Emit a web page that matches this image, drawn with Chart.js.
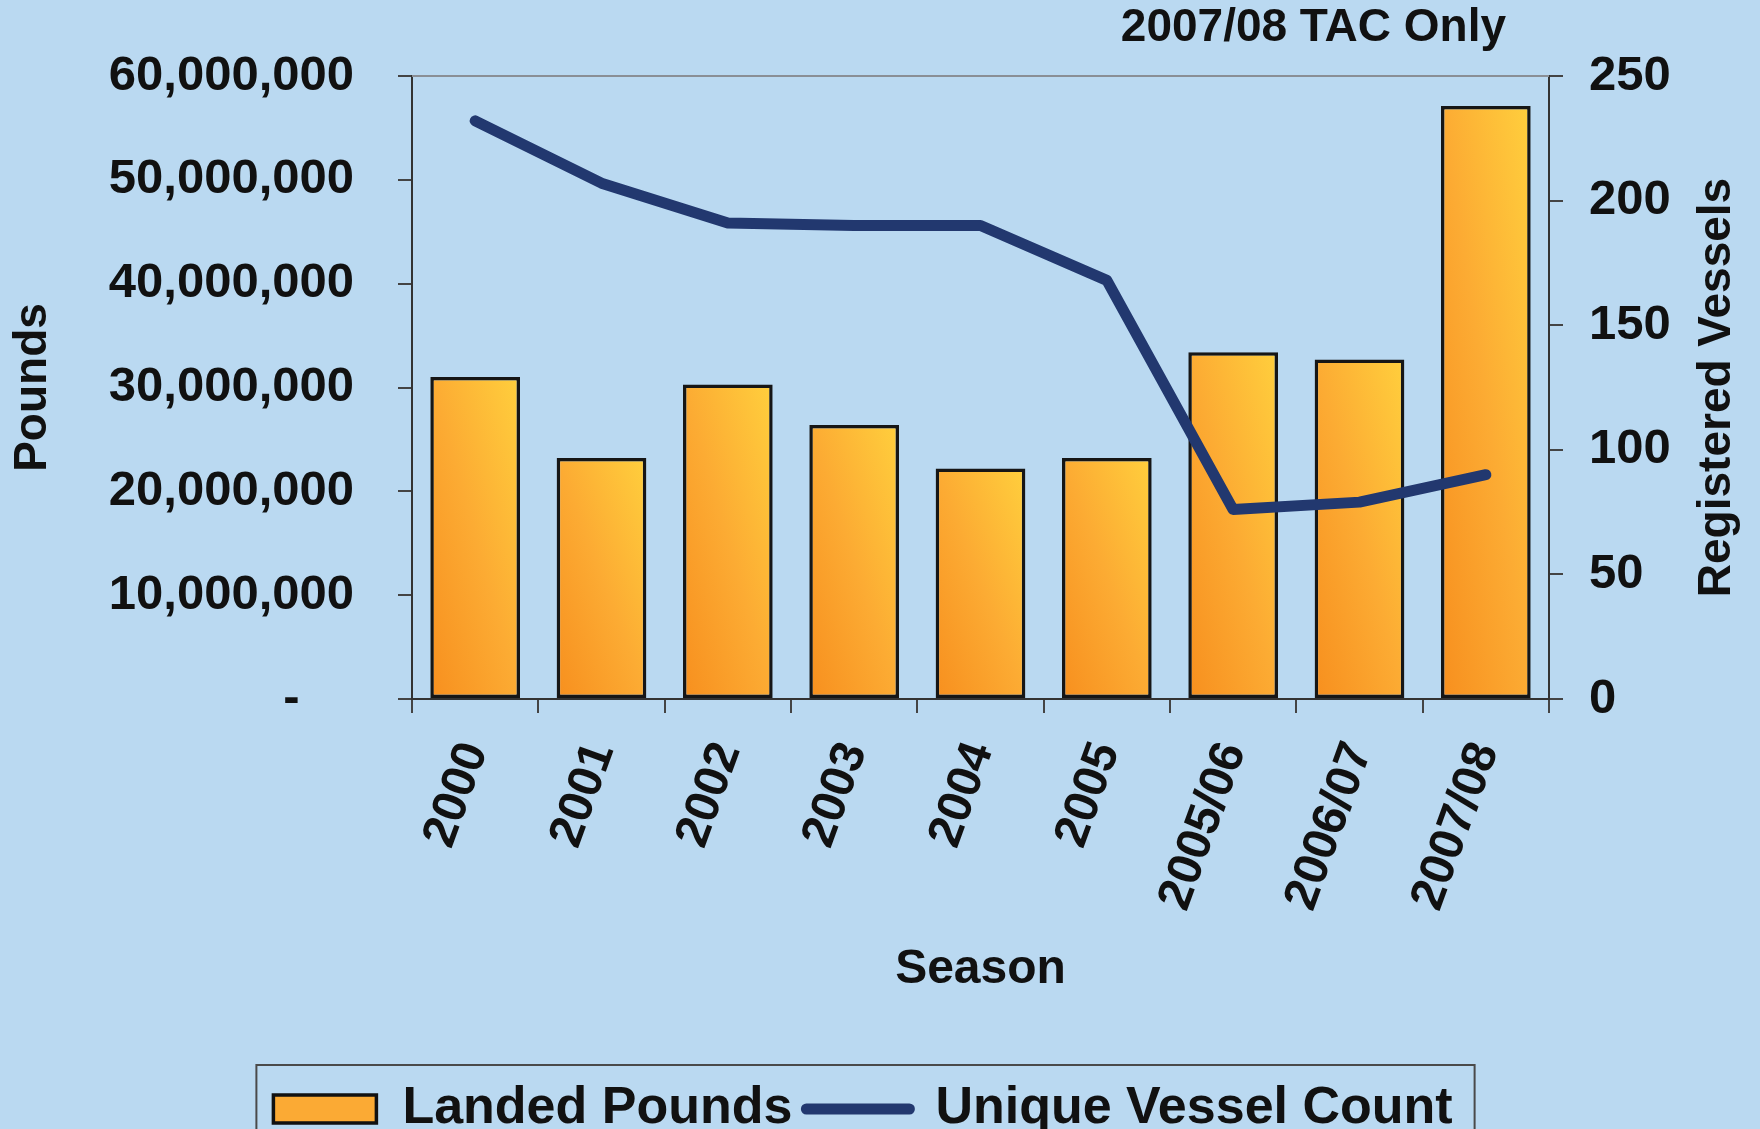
<!DOCTYPE html>
<html>
<head>
<meta charset="utf-8">
<script src="https://cdn.jsdelivr.net/npm/chart.js@4.4.0/dist/chart.umd.min.js"></script>
<style>
  html, body { margin: 0; padding: 0; background: #bad9f1; }
  #wrap { width: 1760px; height: 1129px; }
</style>
</head>
<body>
<div id="wrap"><canvas id="season-chart" width="1760" height="1129"></canvas></div>
<script>
let seasons = ["2000", "2001", "2002", "2003", "2004", "2005", "2005/06", "2006/07", "2007/08"];
let landedPounds = [31000000, 23200000, 30300000, 26400000, 22200000, 23200000, 33400000, 32700000, 57100000];
let vesselCount = [232, 207, 191, 190, 190, 168, 76, 79, 90];
let poundTicks = [0, 10000000, 20000000, 30000000, 40000000, 50000000, 60000000];
let vesselTicks = [0, 50, 100, 150, 200, 250];

let bg = "#bad9f1";
let ink = "#111111";
let navy = "#22386f";
let barWidthPct = 0.71;

Chart.defaults.font.family = '"Liberation Sans", Arial, sans-serif';
Chart.defaults.font.weight = "bold";
Chart.defaults.color = ink;

// orange (bottom left corner) -> yellow (top right corner) on each bar
function barFill(c) {
  let chart = c.chart;
  let area = chart.chartArea;
  if (!area || c.dataIndex === undefined) return "#fbaa34";
  let x = chart.scales.x.getPixelForValue(c.dataIndex);
  let w = chart.scales.x.width / seasons.length * barWidthPct;
  let top = chart.scales.y.getPixelForValue(landedPounds[c.dataIndex]);
  let h = area.bottom - top;
  let k = 2 * w * h / (w * w + h * h);
  let x0 = x - w / 2, y0 = area.bottom;
  let g = chart.ctx.createLinearGradient(x0, y0, x0 + k * h, y0 - k * w);
  g.addColorStop(0, "#f78f1e");
  g.addColorStop(0.5, "#fcab33");
  g.addColorStop(1, "#ffcf3d");
  return g;
}

let framePlugin = {
  id: "frame",
  beforeDraw(chart) {
    let ctx = chart.ctx;
    ctx.save();
    ctx.fillStyle = bg;
    ctx.fillRect(0, 0, chart.width, chart.height);
    ctx.restore();
  },
  beforeDatasetsDraw(chart) {
    let a = chart.chartArea;
    let ctx = chart.ctx;
    ctx.save();
    ctx.strokeStyle = "#8a8f96";
    ctx.lineWidth = 2;
    ctx.beginPath();
    ctx.moveTo(a.left, a.top);
    ctx.lineTo(a.right, a.top);
    ctx.stroke();
    ctx.restore();
  },
  afterDraw(chart) {
    let a = chart.chartArea;
    let ctx = chart.ctx;
    ctx.save();
    ctx.fillStyle = ink;
    ctx.font = 'bold 46px "Liberation Sans", Arial, sans-serif';
    // right axis title, reads bottom to top
    ctx.translate(chart.scales.y1.right - 9, (a.top + a.bottom) / 2);
    ctx.rotate(-Math.PI / 2);
    ctx.textAlign = "center";
    ctx.textBaseline = "middle";
    ctx.fillText("Registered Vessels", 0, 0);
    ctx.restore();

    ctx.save();
    ctx.fillStyle = ink;
    ctx.font = 'bold 46px "Liberation Sans", Arial, sans-serif';
    ctx.textAlign = "right";
    ctx.textBaseline = "middle";
    ctx.fillText("2007/08 TAC Only", a.right - 43, 28);
    ctx.restore();

    // frame round the legend
    let boxes = chart.legend.legendHitBoxes;
    if (boxes && boxes.length) {
      let first = boxes[0];
      let last = boxes[boxes.length - 1];
      let l = first.left - 17;
      let r = last.left + last.width + 22;
      let t = first.top - 18;
      ctx.save();
      ctx.strokeStyle = "#4a4a4a";
      ctx.lineWidth = 2;
      ctx.strokeRect(l, t, r - l, chart.height - t + 20);
      ctx.restore();
    }
  }
};

let ctx = document.getElementById("season-chart").getContext("2d");
let seasonChart = new Chart(ctx, {
  type: "bar",
  data: {
    labels: seasons,
    datasets: [
      {
        type: "line",
        label: "Unique Vessel Count",
        data: vesselCount,
        yAxisID: "y1",
        borderColor: navy,
        borderWidth: 11,
        borderCapStyle: "round",
        borderJoinStyle: "round",
        pointRadius: 0,
        tension: 0,
        order: 0
      },
      {
        type: "bar",
        label: "Landed Pounds",
        data: landedPounds,
        yAxisID: "y",
        backgroundColor: barFill,
        borderColor: "#161616",
        borderWidth: 3.5,
        borderSkipped: false,
        barPercentage: barWidthPct,
        categoryPercentage: 1,
        order: 1
      }
    ]
  },
  options: {
    responsive: false,
    devicePixelRatio: 1,
    animation: false,
    layout: { padding: { top: 76, left: 0, right: 34, bottom: -16 } },
    plugins: {
      tooltip: { enabled: false },
      legend: {
        position: "bottom",
        labels: {
          usePointStyle: true,
          pointStyleWidth: 103,
          boxHeight: 28,
          padding: 14,
          font: { size: 52, weight: "bold" },
          generateLabels: () => [
            { text: "Landed Pounds", fillStyle: "#fbaa34", strokeStyle: ink, lineWidth: 3.5, pointStyle: "rect", datasetIndex: 1, hidden: false, fontColor: ink },
            { text: "Unique Vessel Count", fillStyle: navy, strokeStyle: navy, lineWidth: 11, lineCap: "round", pointStyle: "line", datasetIndex: 0, hidden: false, fontColor: ink }
          ]
        }
      }
    },
    scales: {
      x: {
        offset: true,
        grid: { offset: true, drawOnChartArea: false, tickLength: 14, color: "#444", lineWidth: 2 },
        border: { color: "#333", width: 2 },
        ticks: { maxRotation: 70, minRotation: 70, autoSkip: false, padding: 22, font: { size: 48 } },
        title: { display: true, text: "Season", font: { size: 48 }, padding: { top: 0, bottom: 70 } },
        afterFit: s => { s.height = 370; }
      },
      y: {
        position: "left",
        min: poundTicks[0],
        max: poundTicks[poundTicks.length - 1],
        afterBuildTicks: s => { s.ticks = poundTicks.map(v => ({ value: v })); },
        grid: { drawOnChartArea: false, tickLength: 14, color: "#444", lineWidth: 2 },
        border: { color: "#333", width: 2 },
        ticks: {
          padding: 44,
          font: { size: 49 },
          callback: v => v === 0 ? "-\u2007\u2007" : v.toLocaleString("en-US")
        },
        title: { display: true, text: "Pounds", font: { size: 46 }, padding: { top: 6, bottom: 0 } },
        afterFit: s => { s.width = 412; }
      },
      y1: {
        position: "right",
        min: vesselTicks[0],
        max: vesselTicks[vesselTicks.length - 1],
        afterBuildTicks: s => { s.ticks = vesselTicks.map(v => ({ value: v })); },
        grid: { drawOnChartArea: false, tickLength: 14, color: "#444", lineWidth: 2 },
        border: { color: "#333", width: 2 },
        ticks: { padding: 26, font: { size: 49 } },
        afterFit: s => { s.width = 177; }
      }
    }
  },
  plugins: [framePlugin]
});
</script>
</body>
</html>
